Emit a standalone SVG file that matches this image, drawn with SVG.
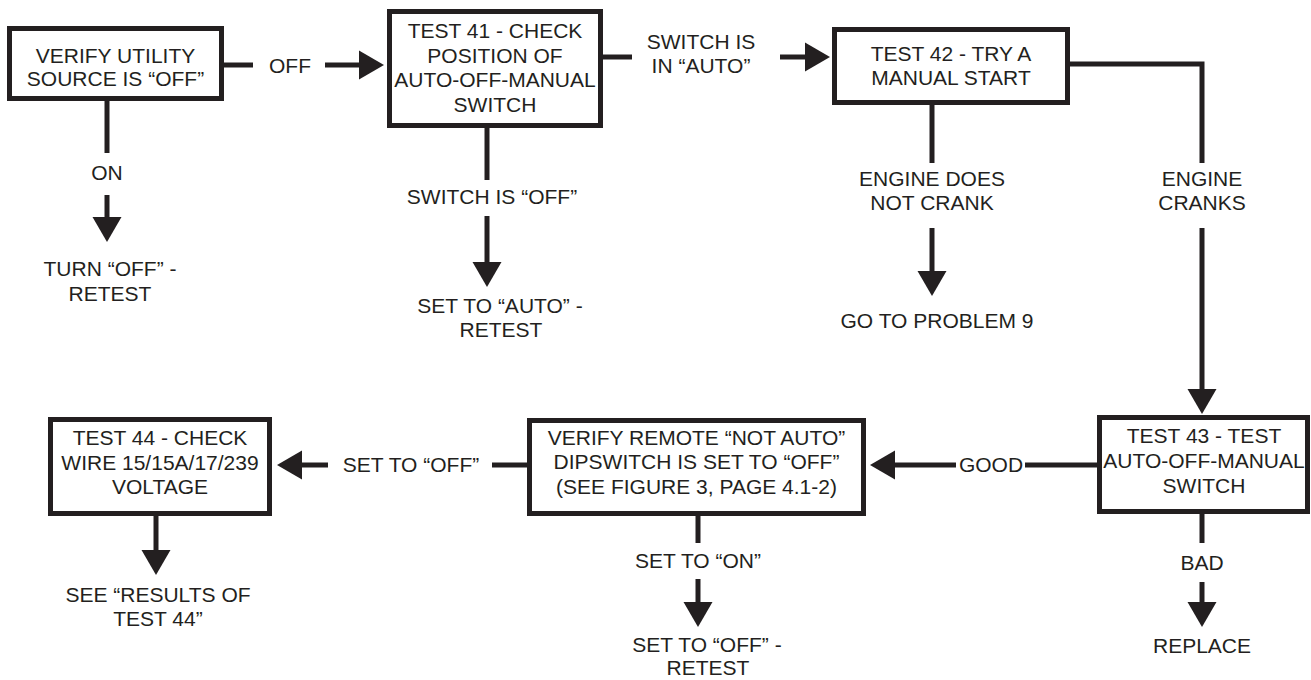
<svg xmlns="http://www.w3.org/2000/svg" width="1311" height="680" viewBox="0 0 1311 680">
<style>
.box{fill:#fff;stroke:#231f20;stroke-width:5}
.t{font-family:"Liberation Sans",Arial,Helvetica,sans-serif;font-size:21px;fill:#231f20;text-anchor:middle}
.c{fill:none;stroke:#231f20;stroke-width:5}
.a{marker-end:url(#ah)}
</style>
<defs>
<marker id="ah" markerUnits="userSpaceOnUse" markerWidth="26" markerHeight="30" viewBox="0 -15 26 30" refX="1" refY="0" orient="auto">
<path d="M0,-14.5 L25,0 L0,14.5 Z" fill="#231f20"/>
</marker>
</defs>
<rect width="1311" height="680" fill="#fff"/>
<g id="connectors">
<path class="c" d="M224,65 H253"/>
<path class="c a" d="M325,65 H360"/>
<text class="t" x="290" y="73">OFF</text>
<path class="c" d="M603,57 H632"/>
<path class="c a" d="M780,57 H806"/>
<text class="t" x="701" y="49">SWITCH IS</text>
<text class="t" x="701" y="73">IN “AUTO”</text>
<path class="c" d="M1070,64 H1202 V163"/>
<path class="c a" d="M1202,228 V390"/>
<text class="t" x="1202" y="186">ENGINE</text>
<text class="t" x="1202" y="210">CRANKS</text>
<path class="c" d="M932,105 V163"/>
<path class="c a" d="M932,228 V272"/>
<text class="t" x="932" y="186">ENGINE DOES</text>
<text class="t" x="932" y="210">NOT CRANK</text>
<text class="t" x="937" y="328">GO TO PROBLEM 9</text>
<path class="c" d="M107,101 V153"/>
<path class="c a" d="M107,195 V218"/>
<text class="t" x="107" y="180">ON</text>
<text class="t" x="110" y="276">TURN “OFF” -</text>
<text class="t" x="110" y="301">RETEST</text>
<path class="c" d="M487,128 V180"/>
<path class="c a" d="M487,216 V263"/>
<text class="t" x="492" y="204">SWITCH IS “OFF”</text>
<text class="t" x="500" y="313">SET TO “AUTO” -</text>
<text class="t" x="501" y="337">RETEST</text>
<path class="c" d="M1097,465 H1025"/>
<path class="c a" d="M956,465 H894"/>
<text class="t" x="991" y="472">GOOD</text>
<path class="c" d="M527,465 H492"/>
<path class="c a" d="M328,465 H301"/>
<text class="t" x="411" y="472">SET TO “OFF”</text>
<path class="c" d="M698,516 V543"/>
<path class="c a" d="M698,579 V603"/>
<text class="t" x="698" y="568">SET TO “ON”</text>
<text class="t" x="707" y="652">SET TO “OFF” -</text>
<text class="t" x="708" y="675">RETEST</text>
<path class="c" d="M1202,514 V543"/>
<path class="c a" d="M1202,582 V603"/>
<text class="t" x="1202" y="570">BAD</text>
<text class="t" x="1202" y="653">REPLACE</text>
<path class="c a" d="M156,516 V551"/>
<text class="t" x="158" y="602">SEE “RESULTS OF</text>
<text class="t" x="158" y="626">TEST 44”</text>
</g>
<g id="verify-utility">
<rect class="box" x="9.5" y="28.5" width="212" height="70"/>
<text class="t" x="115.5" y="63">VERIFY UTILITY</text>
<text class="t" x="115.5" y="86">SOURCE IS “OFF”</text>
</g>
<g id="test41">
<rect class="box" x="389.5" y="11.5" width="211" height="114"/>
<text class="t" x="495" y="38">TEST 41 - CHECK</text>
<text class="t" x="495" y="63">POSITION OF</text>
<text class="t" x="495" y="87">AUTO-OFF-MANUAL</text>
<text class="t" x="495" y="112">SWITCH</text>
</g>
<g id="test42">
<rect class="box" x="834.5" y="29.5" width="233" height="73"/>
<text class="t" x="951" y="61">TEST 42 - TRY A</text>
<text class="t" x="951" y="85">MANUAL START</text>
</g>
<g id="test43">
<rect class="box" x="1099.5" y="417.5" width="208" height="94"/>
<text class="t" x="1204" y="443">TEST 43 - TEST</text>
<text class="t" x="1204" y="468">AUTO-OFF-MANUAL</text>
<text class="t" x="1204" y="493">SWITCH</text>
</g>
<g id="verify-remote">
<rect class="box" x="529.5" y="420.5" width="334" height="93"/>
<text class="t" x="696.5" y="445">VERIFY REMOTE “NOT AUTO”</text>
<text class="t" x="696.5" y="469">DIPSWITCH IS SET TO “OFF”</text>
<text class="t" x="696.5" y="494">(SEE FIGURE 3, PAGE 4.1-2)</text>
</g>
<g id="test44">
<rect class="box" x="50.5" y="419.5" width="219" height="94"/>
<text class="t" x="160" y="445">TEST 44 - CHECK</text>
<text class="t" x="160" y="470">WIRE 15/15A/17/239</text>
<text class="t" x="160" y="494">VOLTAGE</text>
</g>
</svg>
